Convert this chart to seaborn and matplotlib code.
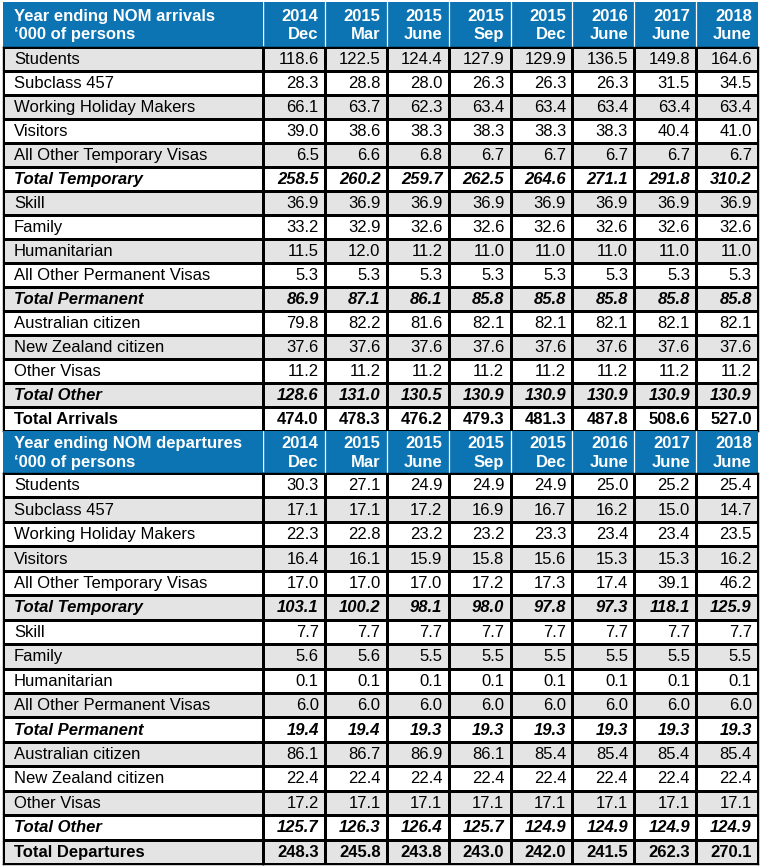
import numpy as np
import pandas as pd
import seaborn as sns
import matplotlib.pyplot as plt
from matplotlib.colors import ListedColormap

sns.set_theme(style="white")
plt.rcParams['font.family'] = ['Liberation Sans', 'DejaVu Sans']

# ---------------- data ----------------
periods = ["2014\nDec", "2015\nMar", "2015\nJune", "2015\nSep", "2015\nDec",
           "2016\nJune", "2017\nJune", "2018\nJune"]

arr_header = "Year ending NOM arrivals\n\u2018000 of persons"
dep_header = "Year ending NOM departures\n\u2018000 of persons"

arr_labels = ["Students", "Subclass 457", "Working Holiday Makers", "Visitors",
              "All Other Temporary Visas", "Total Temporary", "Skill", "Family",
              "Humanitarian", "All Other Permanent Visas", "Total Permanent",
              "Australian citizen", "New Zealand citizen", "Other Visas",
              "Total Other", "Total Arrivals"]
dep_labels = ["Students", "Subclass 457", "Working Holiday Makers", "Visitors",
              "All Other Temporary Visas", "Total Temporary", "Skill", "Family",
              "Humanitarian", "All Other Permanent Visas", "Total Permanent",
              "Australian citizen", "New Zealand citizen", "Other Visas",
              "Total Other", "Total Departures"]

arr_students = [118.6, 122.5, 124.4, 127.9, 129.9, 136.5, 149.8, 164.6]
arr_457 = [28.3, 28.8, 28.0, 26.3, 26.3, 26.3, 31.5, 34.5]
arr_whm = [66.1, 63.7, 62.3, 63.4, 63.4, 63.4, 63.4, 63.4]
arr_visitors = [39.0, 38.6, 38.3, 38.3, 38.3, 38.3, 40.4, 41.0]
arr_other_temp = [6.5, 6.6, 6.8, 6.7, 6.7, 6.7, 6.7, 6.7]
arr_total_temp = [258.5, 260.2, 259.7, 262.5, 264.6, 271.1, 291.8, 310.2]
arr_skill = [36.9, 36.9, 36.9, 36.9, 36.9, 36.9, 36.9, 36.9]
arr_family = [33.2, 32.9, 32.6, 32.6, 32.6, 32.6, 32.6, 32.6]
arr_human = [11.5, 12.0, 11.2, 11.0, 11.0, 11.0, 11.0, 11.0]
arr_other_perm = [5.3, 5.3, 5.3, 5.3, 5.3, 5.3, 5.3, 5.3]
arr_total_perm = [86.9, 87.1, 86.1, 85.8, 85.8, 85.8, 85.8, 85.8]
arr_aus = [79.8, 82.2, 81.6, 82.1, 82.1, 82.1, 82.1, 82.1]
arr_nz = [37.6, 37.6, 37.6, 37.6, 37.6, 37.6, 37.6, 37.6]
arr_other_visas = [11.2, 11.2, 11.2, 11.2, 11.2, 11.2, 11.2, 11.2]
arr_total_other = [128.6, 131.0, 130.5, 130.9, 130.9, 130.9, 130.9, 130.9]
arr_total = [474.0, 478.3, 476.2, 479.3, 481.3, 487.8, 508.6, 527.0]

dep_students = [30.3, 27.1, 24.9, 24.9, 24.9, 25.0, 25.2, 25.4]
dep_457 = [17.1, 17.1, 17.2, 16.9, 16.7, 16.2, 15.0, 14.7]
dep_whm = [22.3, 22.8, 23.2, 23.2, 23.3, 23.4, 23.4, 23.5]
dep_visitors = [16.4, 16.1, 15.9, 15.8, 15.6, 15.3, 15.3, 16.2]
dep_other_temp = [17.0, 17.0, 17.0, 17.2, 17.3, 17.4, 39.1, 46.2]
dep_total_temp = [103.1, 100.2, 98.1, 98.0, 97.8, 97.3, 118.1, 125.9]
dep_skill = [7.7, 7.7, 7.7, 7.7, 7.7, 7.7, 7.7, 7.7]
dep_family = [5.6, 5.6, 5.5, 5.5, 5.5, 5.5, 5.5, 5.5]
dep_human = [0.1, 0.1, 0.1, 0.1, 0.1, 0.1, 0.1, 0.1]
dep_other_perm = [6.0, 6.0, 6.0, 6.0, 6.0, 6.0, 6.0, 6.0]
dep_total_perm = [19.4, 19.4, 19.3, 19.3, 19.3, 19.3, 19.3, 19.3]
dep_aus = [86.1, 86.7, 86.9, 86.1, 85.4, 85.4, 85.4, 85.4]
dep_nz = [22.4, 22.4, 22.4, 22.4, 22.4, 22.4, 22.4, 22.4]
dep_other_visas = [17.2, 17.1, 17.1, 17.1, 17.1, 17.1, 17.1, 17.1]
dep_total_other = [125.7, 126.3, 126.4, 125.7, 124.9, 124.9, 124.9, 124.9]
dep_total = [248.3, 245.8, 243.8, 243.0, 242.0, 241.5, 262.3, 270.1]

arr_values = [arr_students, arr_457, arr_whm, arr_visitors, arr_other_temp,
              arr_total_temp, arr_skill, arr_family, arr_human, arr_other_perm,
              arr_total_perm, arr_aus, arr_nz, arr_other_visas, arr_total_other,
              arr_total]
dep_values = [dep_students, dep_457, dep_whm, dep_visitors, dep_other_temp,
              dep_total_temp, dep_skill, dep_family, dep_human, dep_other_perm,
              dep_total_perm, dep_aus, dep_nz, dep_other_visas, dep_total_other,
              dep_total]

subtotals = {"Total Temporary", "Total Permanent", "Total Other"}
grand_totals = {"Total Arrivals", "Total Departures"}

# ---------------- styles ----------------
BLUE = "#0C74B3"
GREY = "#E4E4E4"
FS = 12

W, H = 761, 867
fig = plt.figure(figsize=(W / 100, H / 100), dpi=100)
gs = fig.add_gridspec(4, 2, left=3 / W, right=758 / W, top=1 - 2 / H,
                      bottom=1 - 864 / H, width_ratios=[260, 495],
                      height_ratios=[45, 384, 42, 391], hspace=0, wspace=0)


def style_font(label):
    if label in subtotals:
        return dict(fontweight="bold", fontstyle="italic")
    if label in grand_totals:
        return dict(fontweight="bold")
    return {}


def draw_header(row, title):
    axl = fig.add_subplot(gs[row, 0])
    axr = fig.add_subplot(gs[row, 1])
    hdr_l = pd.DataFrame([[0]])
    hdr_r = pd.DataFrame([[0] * len(periods)], columns=periods)
    sns.heatmap(hdr_l, ax=axl, cmap=ListedColormap([BLUE]), cbar=False,
                xticklabels=False, yticklabels=False, linewidths=0)
    sns.heatmap(hdr_r, ax=axr, cmap=ListedColormap([BLUE]), cbar=False,
                xticklabels=False, yticklabels=False, linewidths=0)
    axl.text(0.042, 0.52, title, ha="left", va="center", color="white",
             fontsize=FS, fontweight="bold", linespacing=1.3)
    for j, p in enumerate(periods):
        axr.text(j + 1 - 0.1, 0.52, p, ha="right", va="center", color="white",
                 fontsize=FS, fontweight="bold", linespacing=1.3,
                 multialignment="right")
    for j in range(1, len(periods)):
        axr.axvline(j, color="white", lw=0.9)
    axr.axvline(0, color="white", lw=1.0)
    for ax in (axl, axr):
        ax.set_xlabel("")
        ax.set_ylabel("")


def draw_body(row, labels, values, start_index):
    axl = fig.add_subplot(gs[row, 0])
    axr = fig.add_subplot(gs[row, 1])
    shade = [[(start_index + i) % 2] for i in range(len(labels))]
    df_l = pd.DataFrame(shade, index=labels)
    df_r = pd.DataFrame(np.array(values), index=labels, columns=periods)
    shade_r = pd.DataFrame(np.repeat(np.array(shade), len(periods), axis=1),
                           index=labels, columns=periods)
    cm = ListedColormap(["white", GREY])
    sns.heatmap(df_l, ax=axl, cmap=cm, vmin=0, vmax=1, cbar=False,
                xticklabels=False, yticklabels=False,
                linewidths=0.75, linecolor="black")
    sns.heatmap(shade_r, ax=axr, cmap=cm, vmin=0, vmax=1, cbar=False,
                xticklabels=False, yticklabels=False,
                linewidths=0.75, linecolor="black")
    for i, lab in enumerate(labels):
        axl.text(0.042, i + 0.52, lab, ha="left", va="center", color="black",
                 fontsize=FS, **style_font(lab))
        for j, p in enumerate(periods):
            axr.text(j + 1 - 0.1, i + 0.52, f"{df_r.loc[lab, p]:.1f}",
                     ha="right", va="center", color="black", fontsize=FS,
                     **style_font(lab))
    for ax in (axl, axr):
        ax.set_xlabel("")
        ax.set_ylabel("")
        for s in ax.spines.values():
            s.set_visible(True)
            s.set_color("black")
            s.set_linewidth(1.0)


draw_header(0, arr_header)
draw_body(1, arr_labels, arr_values, 1)
draw_header(2, dep_header)
draw_body(3, dep_labels, dep_values, 0)

fig.savefig("out.png", dpi=100)
